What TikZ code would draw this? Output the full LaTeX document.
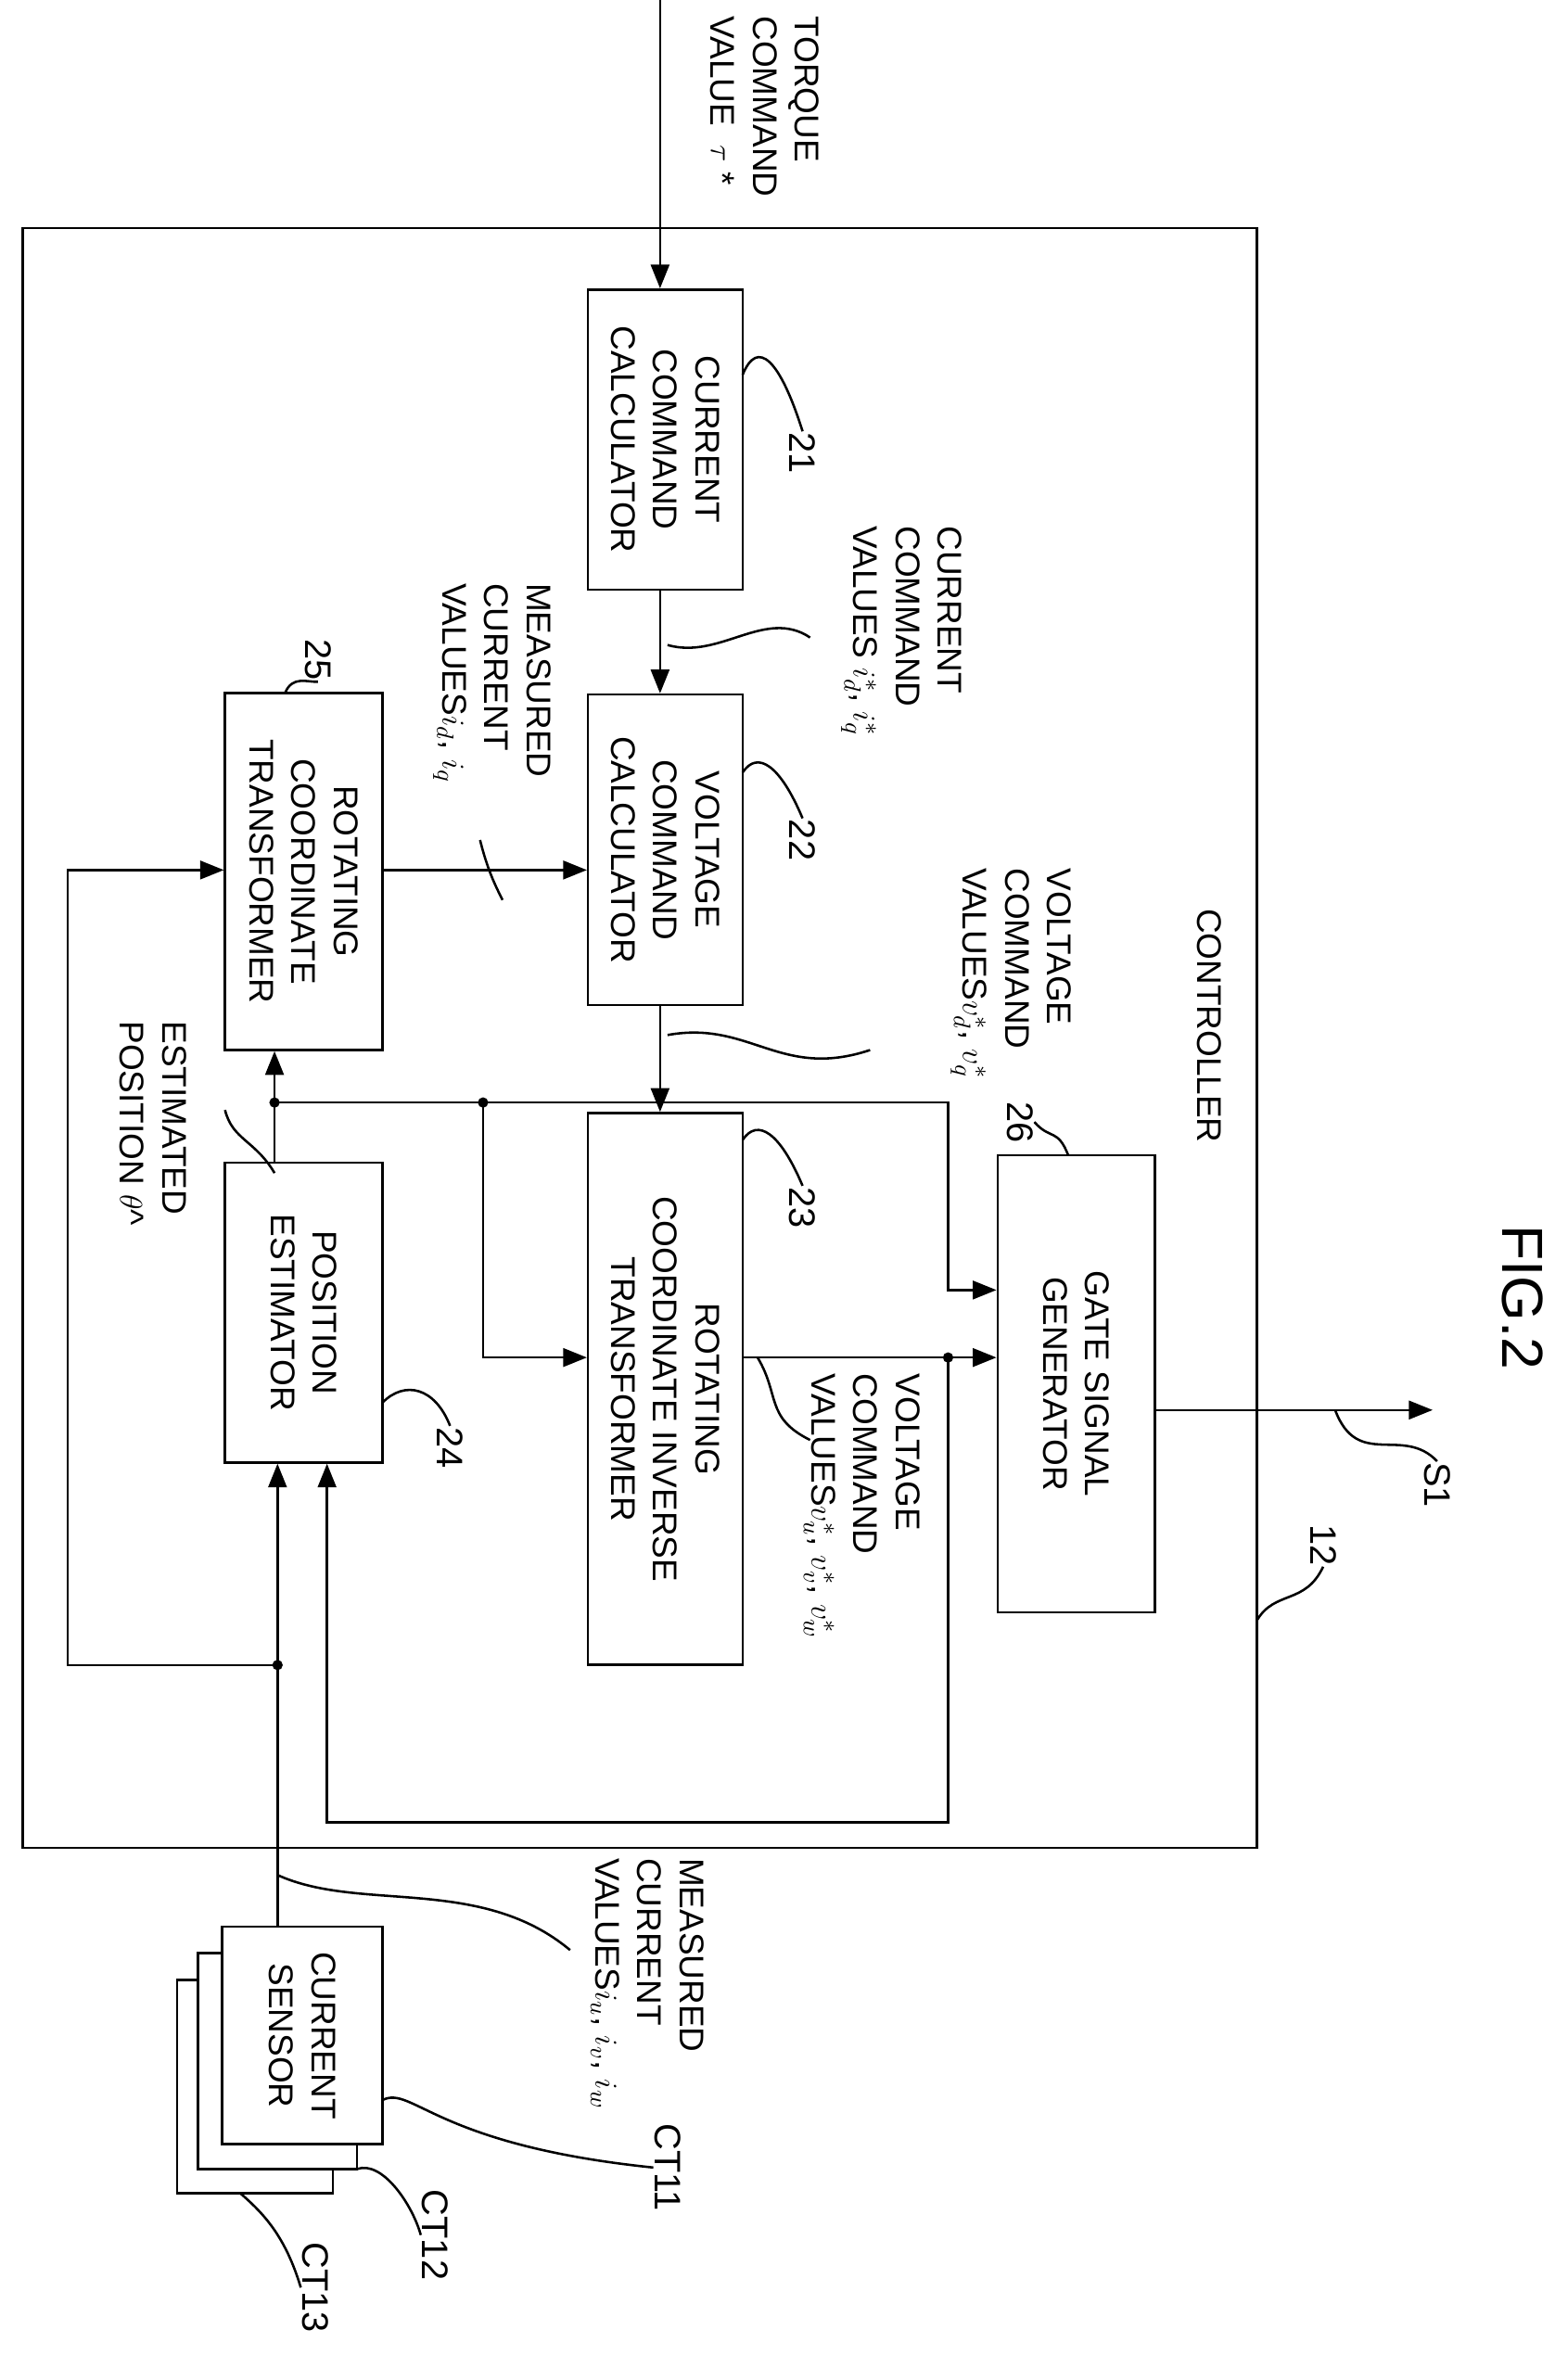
\documentclass[tikz,border=0pt]{standalone}
\usepackage{fontspec}
\setmainfont{Liberation Sans}
\usetikzlibrary{calc,arrows.meta}

\begin{document}
\begin{tikzpicture}
    [x=0.02cm,y=-0.02cm,line width=0.9pt,
     blk/.style={draw,rotate=-90,align=center,inner sep=0pt,font=\fontsize{13}{16}\selectfont},
     txt/.style={rotate=-90,align=left,inner sep=0pt,anchor=north west,font=\fontsize{13}{16}\selectfont},
     num/.style={rotate=-90,inner sep=0pt,font=\fontsize{14}{16}\selectfont},
     arr/.style={-{Triangle[length=9pt,width=7pt]}},
     dot/.style={circle,fill,inner sep=1.4pt}]
    \useasboundingbox (0,0) rectangle (1045,1570);

    % controller frame
    \draw (15,152) rectangle (838,1232);

    % blocks
    \node (b21) [blk,minimum width=4cm,minimum height=2.06cm] at (443.5,293) {CURRENT\\COMMAND\\CALCULATOR};
    \node (b22) [blk,minimum width=4.14cm,minimum height=2.06cm] at (443.5,566.5) {VOLTAGE\\COMMAND\\CALCULATOR};
    \node (b23) [blk,minimum width=7.36cm,minimum height=2.06cm] at (443.5,926) {ROTATING\\COORDINATE INVERSE\\TRANSFORMER};
    \node (b24) [blk,minimum width=4cm,minimum height=2.1cm] at (202.5,875) {POSITION\\ESTIMATOR};
    \node (b25) [blk,minimum width=4.76cm,minimum height=2.1cm] at (202.5,581) {ROTATING\\COORDINATE\\TRANSFORMER};
    \node (b26) [blk,minimum width=6.1cm,minimum height=2.1cm] at (717.5,922.5) {GATE SIGNAL\\GENERATOR};
    \draw[fill=white] (118,1320) rectangle (222,1462);
    \draw[fill=white] (132,1302) rectangle (238,1446);
    \node (sen) [blk,fill=white,minimum width=2.9cm,minimum height=2.14cm] at (201.5,1357) {CURRENT\\SENSOR};

    % named points
    \coordinate (tin) at (440,0);
    \coordinate (jA) at (183,735);
    \coordinate (jB) at (322,735);
    \coordinate (jC) at (632,905);
    \coordinate (jD) at (185,1110);
    \coordinate (out) at (955,940);

    % connectors
    \draw[arr] (tin) -- (b21.west -| tin);
    \draw[arr] (b21.east -| tin) -- (b22.west -| tin);
    \draw[arr] (b22.east -| tin) -- (b23.west -| tin);
    \draw[arr] (b25.north |- 0,580) -- (b22.south |- 0,580);
    \draw[arr] (b24.west -| jA) -- (b25.east -| jA);
    \draw[arr] (jA) -- (632,735) -- (632,860) -- (b26.south |- 0,860);
    \draw[arr] (jB) -- (322,905) -- (b23.south |- 0,905);
    \draw[arr] (b23.north |- jC) -- (b26.south |- jC);
    \draw[arr] (jC) -- (632,1215) -- (218,1215) -- (b24.east -| 218,0);
    \draw[arr] (sen.west -| jD) -- (b24.east -| jD);
    \draw[arr] (jD) -- (45,1110) -- (45,580) -- (b25.south |- 0,580);
    \draw[arr] (b26.north |- out) -- (out);
    \foreach \j in {jA,jB,jC,jD} \node[dot] at (\j) {};

    % labels
    \node[txt] at (547,10) {TORQUE\\COMMAND\\VALUE \ $\tau$ *};
    \node[txt] at (642,350) {CURRENT\\COMMAND\\VALUES $i^*_d$, $i^*_q$};
    \node[txt] at (368,388) {MEASURED\\CURRENT\\VALUES$i_d$, $i_q$};
    \node[txt] at (715,578) {VOLTAGE\\COMMAND\\VALUES$v^*_d$, $v^*_q$};
    \node[txt] at (614,915) {VOLTAGE\\COMMAND\\VALUES$v^*_u$, $v^*_v$, $v^*_w$};
    \node[txt] at (125,680) {ESTIMATED\\POSITION $\theta$\^{}};
    \node[txt] at (470,1238) {MEASURED\\CURRENT\\VALUES$i_u$, $i_v$, $i_w$};
    \node[txt] at (815,605) {CONTROLLER};
    \node[rotate=-90,font=\fontsize{22}{24}\selectfont] at (1015,865) {FIG.2};

    % reference numbers with leaders
    \node[num] (n21) at (535,302) {21};
    \node[num] (n22) at (535,560) {22};
    \node[num] (n23) at (535,805) {23};
    \node[num] (n24) at (300,965) {24};
    \node[num] (n25) at (212,440) {25};
    \node[num] (n26) at (680,748) {26};
    \node[num] (n12) at (882,1030) {12};
    \node[num] (nS1) at (958,990) {S1};
    \node[num] (nC1) at (445,1445) {CT11};
    \node[num] (nC2) at (290,1490) {CT12};
    \node[num] (nC3) at (210,1525) {CT13};
    \draw (495,250) .. controls (505,225) and (520,240) .. (n21.west);
    \draw (495,515) .. controls (505,500) and (520,510) .. (n22.west);
    \draw (495,760) .. controls (505,745) and (520,755) .. (n23.west);
    \draw (255,935) .. controls (270,920) and (290,925) .. (n24.west);
    \draw (190,462) .. controls (195,450) and (205,455) .. (n25.east);
    \draw (712,770) .. controls (705,752) and (700,760) .. (n26.north);
    \draw (838,1080) .. controls (850,1060) and (870,1070) .. (n12.east);
    \draw (890,940) .. controls (905,980) and (935,950) .. (nS1.west);
    \draw (255,1400) .. controls (275,1390) and (290,1430) .. (nC1.south);
    \draw (238,1446) .. controls (255,1440) and (275,1470) .. (nC2.south);
    \draw (160,1462) .. controls (175,1475) and (190,1490) .. (nC3.south);
    \draw (445,430) .. controls (480,440) and (510,405) .. (540,425);
    \draw (320,560) .. controls (325,580) and (330,590) .. (335,600);
    \draw (445,690) .. controls (500,680) and (520,720) .. (580,700);
    \draw (505,905) .. controls (520,930) and (510,945) .. (540,960);
    \draw (183,782) .. controls (170,760) and (155,760) .. (150,740);
    \draw (185,1250) .. controls (240,1275) and (320,1250) .. (380,1300);
\end{tikzpicture}
\end{document}
